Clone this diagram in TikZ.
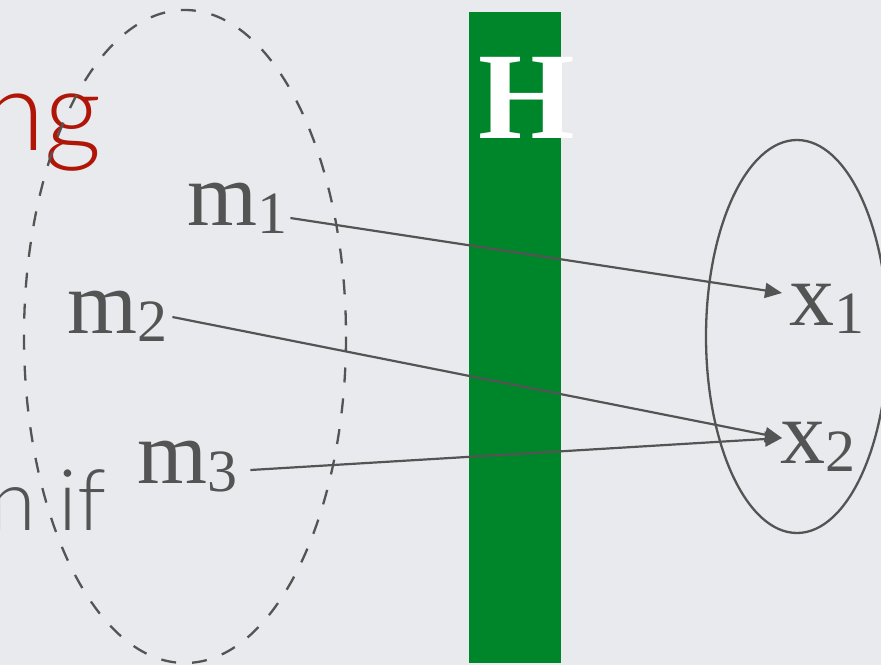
\documentclass[tikz,border=0pt]{standalone}
\usepackage{fontspec}
\setmainfont{Liberation Serif}
\newfontfamily\labsans{Lato Light}
\usetikzlibrary{arrows.meta,calc}
\definecolor{bgcol}{RGB}{233,234,237}
\definecolor{lblgray}{RGB}{84,84,84}
\definecolor{redtxt}{RGB}{176,22,8}
\definecolor{bargreen}{RGB}{0,134,42}
\newcommand\subdig[1]{\lower8pt\hbox{\fontsize{60}{60}\selectfont #1}}
\begin{document}
\begin{tikzpicture}[x=1pt,y=-1pt,
  lbl/.style={inner sep=0pt, text=lblgray, font=\fontsize{90}{90}\selectfont, anchor=base west},
  arr/.style={draw=lblgray, line width=2.2pt, -{Triangle[length=17pt,width=15pt]}},
  setellipse/.style={draw=lblgray, line width=2.3pt},
  bgtext/.style={inner sep=0pt, anchor=base east},
]
\useasboundingbox (0,0) rectangle (881,665);
\fill[bgcol] (0,0) rectangle (881,665);
% background slide text
\node[bgtext, text=redtxt, font=\labsans\fontsize{112}{112}\selectfont] (ng) at (102,150) {ng};
\node[bgtext, text=lblgray, font=\labsans\fontsize{85}{85}\selectfont] (nif) at (107,530) {n if};
% green bar with H
\fill[bargreen] (469,12) rectangle (561,663);
\node[inner sep=0pt, anchor=base west, text=white, font=\bfseries\fontsize{124}{124}\selectfont] (H) at (478,138) {H};
% sets
\draw[setellipse, dash pattern=on 15pt off 16pt] (185,336.5) ellipse [x radius=161, y radius=326.5];
\draw[setellipse] (797,336.5) ellipse [x radius=91, y radius=196.5];
% labels
\node[lbl] (m1) at (187,225) {m\subdig{1}};
\node[lbl] (m2) at (67,333) {m\subdig{2}};
\node[lbl] (m3) at (137,483) {m\subdig{3}};
\node[lbl] (x1) at (789,325) {x\subdig{1}};
\node[lbl] (x2) at (780,463) {x\subdig{2}};
% arrows
\draw[arr] ($(m1.base east)+(3,-7)$) -- ($(x1.base west)+(-7,-32)$);
\draw[arr] ($(m2.base east)+(5,-16)$) -- ($(x2.base west)+(2,-25)$);
\draw[arr] ($(m3.base east)+(13,-13)$) -- ($(x2.base west)+(2,-25)$);
\end{tikzpicture}
\end{document}
